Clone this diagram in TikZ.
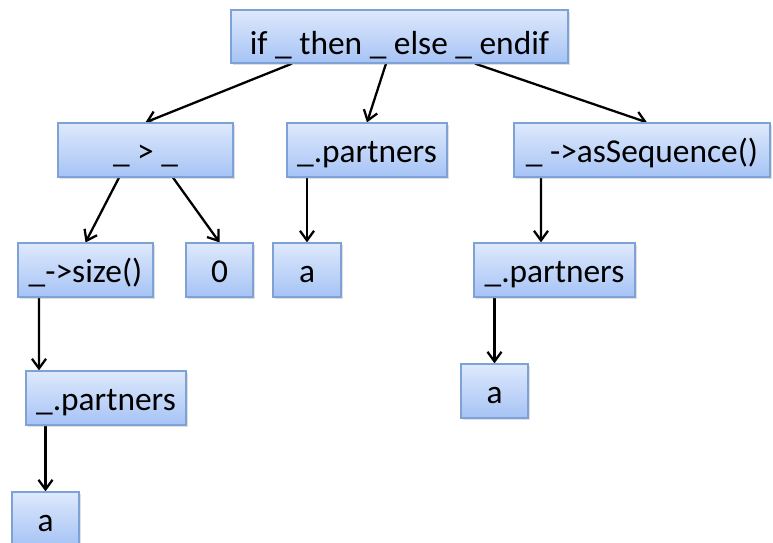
\documentclass[tikz,border=0pt]{standalone}
\usepackage{fontspec}
\setmainfont{Carlito}
\usetikzlibrary{arrows.meta,shadows}
\pgfdeclarelayer{bg}
\pgfsetlayers{bg,main}
\definecolor{boxtop}{HTML}{DEE9FC}
\definecolor{boxbot}{HTML}{A6C3F5}
\definecolor{boxline}{HTML}{7EA1D6}
\tikzset{
  term/.style={draw=boxline, line width=0.7pt, top color=boxtop, bottom color=boxbot,
    minimum height=1.08cm, inner sep=0pt, text height=0.48cm, text depth=0pt,
    font=\fontsize{19}{23}\selectfont,
    drop shadow={shadow xshift=0.04cm, shadow yshift=-0.04cm, opacity=0.25}},
  sub/.style={-{Straight Barb[length=5.5pt,width=8pt]}, line width=1.3pt}
}

\begin{document}
\begin{tikzpicture}
        \useasboundingbox (0,0) rectangle (15.46,10.84);
        \node (v0) [term, minimum width=6.74cm, minimum height=1.06cm, text height=0.70cm] at (7.99cm, 10.11cm) {if \_ then \_ else \_ endif};
        \node (v1) [term, minimum width=3.50cm] at (2.91cm, 7.84cm) {\_ > \_};
        \node (v2) [term, minimum width=3.20cm] at (7.34cm, 7.84cm) {\_.partners};
        \node (v3) [term, minimum width=5.12cm] at (12.84cm, 7.84cm) {\_ ->asSequence()};
        \node (v4) [term, minimum width=2.70cm] at (1.71cm, 5.44cm) {\_->size()};
        \node (v5) [term, minimum width=1.34cm] at (4.39cm, 5.44cm) {0};
        \node (v6) [term, minimum width=1.36cm] at (6.14cm, 5.44cm) {a};
        \node (v7) [term, minimum width=3.22cm] at (11.09cm, 5.44cm) {\_.partners};
        \node (v8) [term, minimum width=3.20cm] at (2.12cm, 2.88cm) {\_.partners};
        \node (v9) [term, minimum width=1.34cm] at (9.89cm, 3.02cm) {a};
        \node (v10) [term, minimum width=1.34cm] at (0.91cm, 0.46cm) {a};
        \begin{pgfonlayer}{bg}
                \draw ([xshift=-2.15cm]v0.south) edge [sub] (v1.north);
                \draw ([xshift=-0.27cm]v0.south) edge [sub] (v2.north);
                \draw ([xshift=1.51cm]v0.south) edge [sub] ([xshift=0.1cm]v3.north);
                \draw ([xshift=-0.53cm]v1.south) edge [sub] (v4.north);
                \draw ([xshift=0.55cm]v1.south) edge [sub] (v5.north);
                \draw (v2.south -| v6.north) edge [sub] (v6.north);
                \draw ([xshift=-2.02cm]v3.south) edge [sub] ([xshift=-0.27cm]v7.north);
                \draw ([xshift=-0.93cm]v4.south) edge [sub] ([xshift=-1.34cm]v8.north);
                \draw (v7.south -| v9.north) edge [sub] (v9.north);
                \draw (v8.south -| v10.north) edge [sub] (v10.north);
        \end{pgfonlayer}
\end{tikzpicture}
\end{document}
